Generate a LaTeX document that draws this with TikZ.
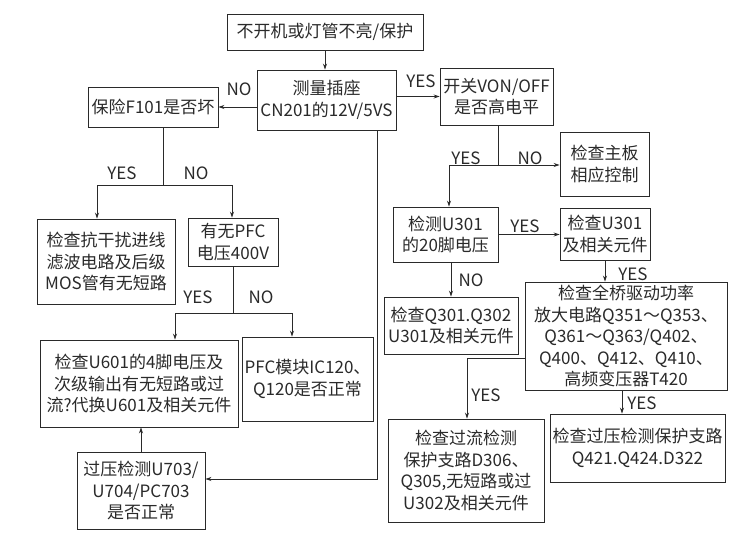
\documentclass[tikz,border=0pt]{standalone}
\usepackage{fontspec}
\setmainfont{Noto Sans CJK SC}
\usetikzlibrary{arrows.meta}
\definecolor{ink}{HTML}{2A2A2A}
\begin{document}
\begin{tikzpicture}[x=1pt,y=-1pt,
 box/.style={draw=ink, line width=0.9pt, align=center, inner sep=1pt, text=ink, font=\fontsize{17}{21.5}\selectfont},
 arr/.style={draw=ink, line width=0.8pt, -{Stealth[length=6pt,width=4pt]}},
 ln/.style={draw=ink, line width=0.8pt},
 lab/.style={text=ink, font=\fontsize{17}{20}\selectfont, inner sep=0pt}]
\useasboundingbox[fill=white] (0,0) rectangle (736,536);
% boxes
\node[box, minimum width=196pt, minimum height=36pt] (top) at (325,32) {不开机或灯管不亮/保护};
\node[box, minimum width=139pt, minimum height=60pt] (meas) at (326.5,100) {测量插座\\CN201的12V/5VS};
\node[box, minimum width=130pt, minimum height=40pt] (fuse) at (153,107) {保险F101是否坏};
\node[box, minimum width=113pt, minimum height=57pt] (sw) at (496.5,96.5) {开关VON/OFF\\是否高电平};
\node[box, minimum width=89pt, minimum height=64pt] (mb) at (604.5,164) {检查主板\\相应控制};
\node[box, minimum width=105pt, minimum height=55pt] (u6) at (445.5,234.5) {检测U301\\的20脚电压};
\node[box, minimum width=90pt, minimum height=52pt] (u7) at (605,234) {检查U301\\及相关元件};
\node[box, minimum width=134pt, minimum height=57pt] (q8) at (451,325.5) {检查Q301.Q302\\U301及相关元件};
\node[box, minimum width=202pt, minimum height=108pt] (fb) at (626,336) {检查全桥驱动功率\\放大电路Q351～Q353、\\Q361～Q363/Q402、\\Q400、Q412、Q410、\\高频变压器T420};
\node[box, minimum width=156pt, minimum height=103pt] (oc) at (466,470.5) {检查过流检测\\保护支路D306、\\Q305,无短路或过\\U302及相关元件};
\node[box, minimum width=175pt, minimum height=68pt] (ov) at (637.5,448) {检查过压检测保护支路\\Q421.Q424.D322};
\node[box, minimum width=138pt, minimum height=85pt] (emi) at (106,261.5) {检查抗干扰进线\\滤波电路及后级\\MOS管有无短路};
\node[box, minimum width=90pt, minimum height=48pt] (pfc) at (233,242) {有无PFC\\电压400V};
\node[box, minimum width=198pt, minimum height=87pt] (u601) at (139,383.5) {检查U601的4脚电压及\\次级输出有无短路或过\\流?代换U601及相关元件};
\node[box, minimum width=131pt, minimum height=84pt] (ic) at (307.5,379) {PFC模块IC120、\\Q120是否正常};
\node[box, minimum width=128pt, minimum height=77pt] (ovp) at (141,490.5) {过压检测U703/\\U704/PC703\\是否正常};
% junction coordinates
\coordinate (fj) at (163,185);
\coordinate (fjL) at (97,185);
\coordinate (fjR) at (232,185);
\coordinate (pj) at (233,313);
\coordinate (pjL) at (175,313);
\coordinate (pjR) at (292,313);
\coordinate (ml) at (377,479);
\coordinate (sj) at (498,165);
\coordinate (sjL) at (449,165);
\coordinate (fbL) at (467,358);
\coordinate (fbD) at (622,390);
% connectors
\draw[arr] (top.south) -- (top.south |- meas.north);
\draw[arr] (meas.west |- fuse.east) -- (fuse.east);
\draw[arr] (meas.east |- sw.west) -- (sw.west);
\draw[ln] (fuse.south -| fj) -- (fj);
\draw[arr] (fjL) -- (fjL |- emi.north);
\draw[arr] (fjL) -- (fjR) -- (fjR |- pfc.north);
\draw[ln] (pfc.south -| pj) -- (pj);
\draw[arr] (pjL) -- (pjL |- u601.north);
\draw[arr] (pjL) -- (pjR) -- (pjR |- ic.north);
\draw[arr] (meas.south -| ml) -- (ml) -- (ml -| ovp.east);
\draw[arr] (ovp.north) -- (ovp.north |- u601.south);
\draw[ln] (sw.south -| sj) -- (sj);
\draw[arr] (sjL) -- (sjL -| mb.west);
\draw[arr] (sjL) -- (sjL |- u6.north);
\draw[arr] (u6.east) -- (u6.east -| u7.west);
\draw[arr] (q8.north |- u6.south) -- (q8.north);
\draw[arr] (u7.south) -- (u7.south |- fb.north);
\draw[arr] (fbL -| fb.west) -- (fbL) -- (fbL |- oc.north);
\draw[arr] (fbD) -- (fbD |- ov.north);
% labels
\node[lab] (l1) at (239,89) {NO};
\node[lab] (l2) at (421,81) {YES};
\node[lab] (l3) at (122,173) {YES};
\node[lab] (l4) at (196,173) {NO};
\node[lab] (l5) at (198,297) {YES};
\node[lab] (l6) at (261,297) {NO};
\node[lab] (l7) at (466,158) {YES};
\node[lab] (l8) at (530,158) {NO};
\node[lab] (l9) at (525,226) {YES};
\node[lab] (l10) at (471,280) {NO};
\node[lab] (l11) at (633,274) {YES};
\node[lab] (l12) at (486,395) {YES};
\node[lab] (l13) at (642,403) {YES};
\end{tikzpicture}
\end{document}
